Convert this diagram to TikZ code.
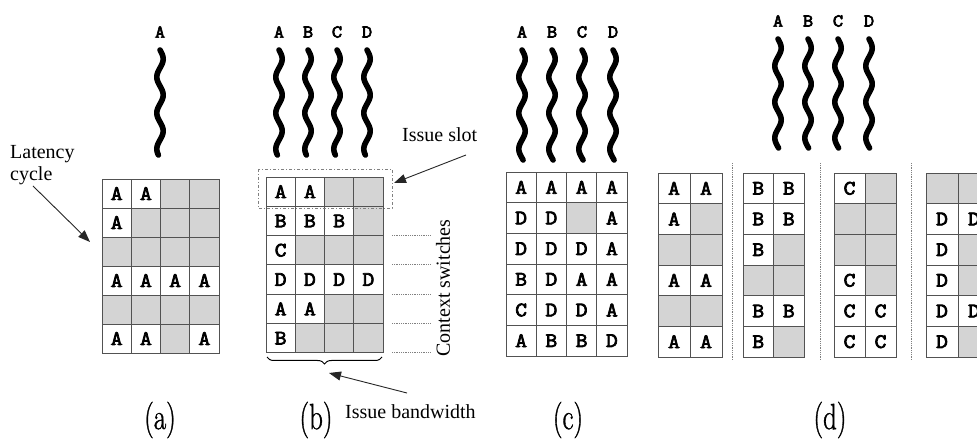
\documentclass[tikz,border=0pt]{standalone}
\usepackage{fontspec}
\usetikzlibrary{arrows.meta,decorations.pathreplacing}
\newfontfamily\notefont{Liberation Serif}
\newfontfamily\cellfont{Latin Modern Mono}[FakeBold=3.5, FakeStretch=1.12]
\newfontfamily\labelfont{Latin Modern Roman}[FakeBold=1.2]

\definecolor{cellgray}{gray}{0.83}
\definecolor{rulegray}{gray}{0.32}

\tikzset{
  cellbox/.style={draw=rulegray, line width=0.9pt},
  celltext/.style={font=\cellfont\fontsize{20.5}{20.5}\selectfont, inner sep=0pt},
  threadlabel/.style={font=\cellfont\fontsize{18}{18}\selectfont, inner sep=0pt},
  wave/.style={line width=5.6pt, line cap=round, black},
  note/.style={font=\notefont\fontsize{20}{22}\selectfont, inner sep=0pt},
  pointer/.style={-{Triangle[length=12pt,width=9pt]}, line width=0.9pt, black!85},
  guide/.style={densely dotted, gray, line width=0.8pt},
  slotframe/.style={dash pattern=on 3pt off 2pt on 1pt off 2pt, gray, line width=0.8pt},
  panellabel/.style={font=\labelfont\fontsize{27}{27}\selectfont, inner sep=0pt},
}

\def\grayflag{g}
% issue-slot grid: name, left, top, cell width, cell height, rows
\newcommand\issuegrid[6]{%
  \foreach \rowcells [count=\r] in {#6} {
    \foreach \c [count=\k] in \rowcells {
      \edef\cellval{\c}
      \pgfmathsetmacro\cx{#2+(\k-1)*#4}
      \pgfmathsetmacro\cy{#3+(\r-1)*#5}
      \ifx\cellval\grayflag
        \filldraw[cellbox, fill=cellgray] (\cx,\cy) rectangle ++(#4,#5);
      \else
        \filldraw[cellbox, fill=white] (\cx,\cy) rectangle ++(#4,#5);
        \node[celltext] (#1-\r-\k) at (\cx+#4/2, \cy+#5/2) {\cellval};
      \fi
    }
  }
}
% thread: name, x, top of wave, length, letter
\newcommand\thread[5]{%
  \node[threadlabel] (#1) at (#2, #3-18) {#5};
  \draw[wave] plot[domain=0:#4, samples=70, smooth] ({#2 + 3.2*sin(\x*10)}, {#3+\x});
}

\begin{document}
\begin{tikzpicture}[x=1pt, y=-1pt]
\clip (0,0) rectangle (977,443);
\fill[white] (0,0) rectangle (977,443);

% ---------- (a) single thread ----------
\thread{ta}{160}{50}{105}{A}
\issuegrid{ga}{102}{179}{29.25}{29}{{A,A,g,g},{A,g,g,g},{g,g,g,g},{A,A,A,A},{g,g,g,g},{A,A,g,A}}
\node[note, anchor=north west, align=left] (latency) at (10,145) {Latency\\cycle};
\coordinate (latstart) at (33,186);
\coordinate (lattip) at (90,242);
\draw[pointer] (latstart) -- (lattip);
\node[panellabel] (la) at (160,420) {\scalebox{1}[1.35]{(a)}};

% ---------- (b) coarse-grained ----------
\thread{tbA}{279}{50}{105}{A}
\thread{tbB}{308}{50}{105}{B}
\thread{tbC}{337}{50}{105}{C}
\thread{tbD}{367}{50}{105}{D}
\issuegrid{gb}{266}{177}{29.25}{29.3}{{A,A,g,g},{B,B,B,g},{C,g,g,g},{D,D,D,D},{A,A,g,g},{B,g,g,g}}
\draw[slotframe] (258,169) rectangle (392,208);
\node[note, anchor=west] (slot) at (402,135) {Issue slot};
\coordinate (slotstart) at (466,155);
\coordinate (slottip) at (394,183);
\draw[pointer] (slotstart) -- (slottip);
\foreach \k in {2,...,6} {
  \coordinate (cs\k) at (392,177+\k*29.3);
  \draw[guide] (cs\k) -- ++(38,0);
}
\node[note, rotate=90] (ctx) at (443,288) {Context switches};
\coordinate (bl) at (267,357);
\coordinate (br) at (382,357);
\draw[decorate, decoration={brace, mirror, amplitude=7pt}, line width=1pt] (bl) -- (br);
\coordinate (bwstart) at (407,393);
\coordinate (bwtip) at (329,373);
\draw[pointer] (bwstart) -- (bwtip);
\node[note, anchor=west] (bw) at (345,412) {Issue bandwidth};
\node[panellabel] (lb) at (316,420) {\scalebox{1}[1.35]{(b)}};

% ---------- (c) fine-grained ----------
\thread{tcA}{522}{50}{110}{A}
\thread{tcB}{552}{50}{110}{B}
\thread{tcC}{582}{50}{110}{C}
\thread{tcD}{613}{50}{110}{D}
\issuegrid{gc}{506}{172}{30.25}{30.67}{{A,A,A,A},{D,D,g,A},{D,D,D,A},{B,D,A,A},{C,D,D,A},{A,B,B,D}}
\node[panellabel] (lc) at (568,420) {\scalebox{1}[1.35]{(c)}};

% ---------- (d) partitioned ----------
\thread{tdA}{778}{39}{109}{A}
\thread{tdB}{808}{39}{109}{B}
\thread{tdC}{838}{39}{109}{C}
\thread{tdD}{869}{39}{109}{D}
\issuegrid{gd1}{658}{173}{32}{30.67}{{A,A},{A,g},{g,g},{A,A},{g,g},{A,A}}
\issuegrid{gd2}{743}{173}{30.5}{30.67}{{B,B},{B,B},{B,g},{g,g},{B,B},{B,g}}
\issuegrid{gd3}{834}{173}{31}{30.67}{{C,g},{g,g},{g,g},{C,g},{C,C},{C,C}}
\issuegrid{gd4}{926}{173}{32}{30.67}{{g,g},{D,D},{D,g},{D,g},{D,D},{D,g}}
\foreach \sx [count=\i] in {732,820,911} {
  \coordinate (sepT\i) at (\sx,163);
  \coordinate (sepB\i) at (\sx,360);
  \draw[guide, densely dotted, line width=1pt] (sepT\i) -- (sepB\i);
}
\node[panellabel] (ld) at (830,420) {\scalebox{1}[1.35]{(d)}};
\end{tikzpicture}
\end{document}
